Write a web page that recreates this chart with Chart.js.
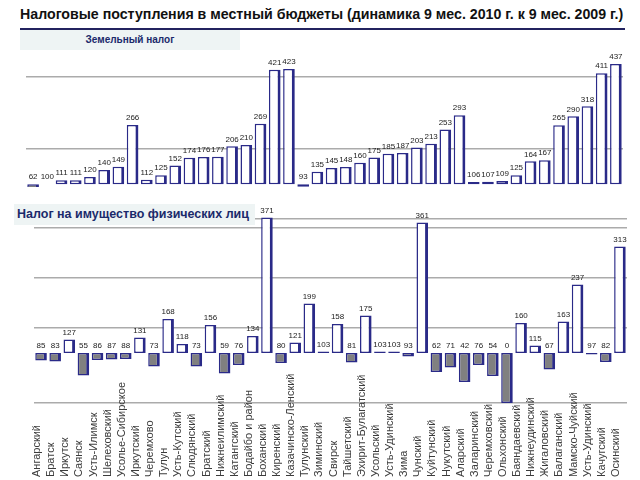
<!DOCTYPE html>
<html lang="ru">
<head>
<meta charset="utf-8">
<script src="https://cdn.jsdelivr.net/npm/chart.js@4.4.1/dist/chart.umd.min.js"></script>
<style>
  html, body { margin: 0; padding: 0; background: #fff; }
  body { width: 640px; height: 480px; position: relative; overflow: hidden;
         font-family: "Liberation Sans", Arial, sans-serif; }
  .title { position: absolute; left: 20px; top: 6px; font-size: 14.2px; font-weight: bold;
           color: #111; white-space: nowrap; }
  .rule  { position: absolute; left: 20px; top: 28px; width: 605px; height: 2px; background: #23235f; }
  .panel { position: absolute; background: #eef4f4; color: #1b2a6b; font-weight: bold;
           white-space: nowrap; z-index: 2; }
  #landLabel { left: 20px; top: 30px; width: 220px; height: 20px; line-height: 20px;
               font-size: 10px; text-align: center; }
  #propLabel { left: 14px; top: 204px; width: 238px; height: 21px; line-height: 21px;
               font-size: 12.5px; padding-left: 3px; }
  canvas { position: absolute; left: 0; }
  #landChart { top: 40px; }
  #propChart { top: 195px; }
</style>
</head>
<body>
<div class="title">Налоговые поступления в местный бюджеты (динамика 9 мес. 2010 г. к 9 мес. 2009 г.)</div>
<div class="rule"></div>
<div class="panel" id="landLabel">Земельный налог</div>
<div class="panel" id="propLabel">Налог на имущество физических лиц</div>
<canvas id="landChart" width="640" height="150"></canvas>
<canvas id="propChart" width="640" height="285"></canvas>
<script>
const regions = [
    'Ангарский', 'Братск', 'Иркутск', 'Саянск', 'Усть-Илимск', 'Шелеховский',
    'Усолье-Сибирское', 'Иркутский', 'Черемхово', 'Тулун', 'Усть-Кутский', 'Слюдянский',
    'Братский', 'Нижнеилимский', 'Катангский', 'Бодайбо и район', 'Боханский', 'Киренский',
    'Казачинско-Ленский', 'Тулунский', 'Зиминский', 'Свирск', 'Тайшетский', 'Эхирит-Булагатский',
    'Усольский', 'Усть-Удинский', 'Зима', 'Чунский', 'Куйтунский', 'Нукутский',
    'Аларский', 'Заларинский', 'Черемховский', 'Ольхонский', 'Баяндаевский', 'Нижнеудинский',
    'Жигаловский', 'Балаганский', 'Мамско-Чуйский', 'Усть-Удинский', 'Качугский', 'Осинский'
];

// земельный налог, % к 9 мес. 2009 г.
const landTax = [
    62, 100, 111, 111, 120, 140, 149, 266, 112, 125, 152, 174, 176, 177, 206, 210, 269, 421, 423,
    93, 135, 145, 148, 160, 175, 185, 187, 203, 213, 253, 293,
    106, 107, 109, 125, 164, 167, 265, 290, 318, 411, 437
];

// налог на имущество физических лиц, %
const propertyTax = [
    85, 83, 127, 55, 86, 87, 88, 131, 73, 168, 118, 73, 156, 59, 76, 134, 371,
    80, 121, 199, 103, 158, 81, 175, 103, 103, 93, 361,
    62, 71, 42, 76, 54, 0, 160, 115, 67, 163, 237, 97, 82, 313
];

const landGrid = [200, 400];
const propGrid = [0, 150, 250, 350, 368];

const BASE      = 100;
const NAVY      = '#2a2a88';
const GRAY_FILL = '#808080';
const GRID      = '#ababab';

const fillFor = v => v < BASE ? GRAY_FILL : '#ffffff';

const valueLabels = {
    id: 'valueLabels',
    afterDatasetsDraw(chart) {
        const ctx  = chart.ctx;
        const meta = chart.getDatasetMeta(0);
        const data = chart.data.datasets[0].data;
        ctx.save();
        ctx.font = '8px "Liberation Sans", Arial, sans-serif';
        ctx.fillStyle = '#222';
        ctx.textAlign = 'center';
        ctx.textBaseline = 'bottom';
        meta.data.forEach((bar, i) => {
            const top = Math.min(bar.y, bar.base);
            ctx.fillText(String(data[i]), bar.x, top - 3);
        });
        ctx.restore();
    }
};

const regionLabels = {
    id: 'regionLabels',
    afterDraw(chart) {
        const ctx = chart.ctx;
        const xs  = chart.scales.x;
        ctx.save();
        ctx.font = '11px "Liberation Sans", Arial, sans-serif';
        ctx.fillStyle = '#3c3c3c';
        ctx.textAlign = 'left';
        ctx.textBaseline = 'middle';
        regions.forEach((name, i) => {
            ctx.save();
            ctx.translate(xs.getPixelForValue(i) - 4, chart.height - 3);
            ctx.rotate(-Math.PI / 2);
            ctx.fillText(name, 0, 0);
            ctx.restore();
        });
        ctx.restore();
    }
};

function buildChart(id, values, grid, min, max, padding, clip, plugins) {
    return new Chart(document.getElementById(id), {
        type: 'bar',
        data: {
            labels: regions,
            datasets: [{
                data: values,
                base: BASE,
                backgroundColor: values.map(fillFor),
                borderColor: NAVY,
                borderWidth: { left: 1.5, top: 1.5, right: 3, bottom: 1.5 },
                borderSkipped: false,
                barPercentage: 0.82,
                categoryPercentage: 1,
                clip,
            }]
        },
        options: {
            responsive: false,
            animation: false,
            layout: { padding },
            plugins: {
                legend: { display: false },
                tooltip: { enabled: false },
            },
            scales: {
                x: { display: false },
                y: {
                    min, max,
                    afterBuildTicks: axis => { axis.ticks = grid.map(v => ({ value: v })); },
                    ticks: { display: false },
                    grid: { color: GRID, lineWidth: 1.5, drawTicks: false },
                    border: { display: false },
                }
            }
        },
        plugins
    });
}

// top panel: bars below the axis minimum are cut off, as in the original
buildChart('landChart', landTax, landGrid, 92, 462,
    { left: 26, right: 17, top: 15, bottom: 3 }, 0, [valueLabels]);

buildChart('propChart', propertyTax, propGrid, 0, 368,
    { left: 34, right: 13, top: 24, bottom: 77 }, false, [valueLabels, regionLabels]);
</script>
</body>
</html>
